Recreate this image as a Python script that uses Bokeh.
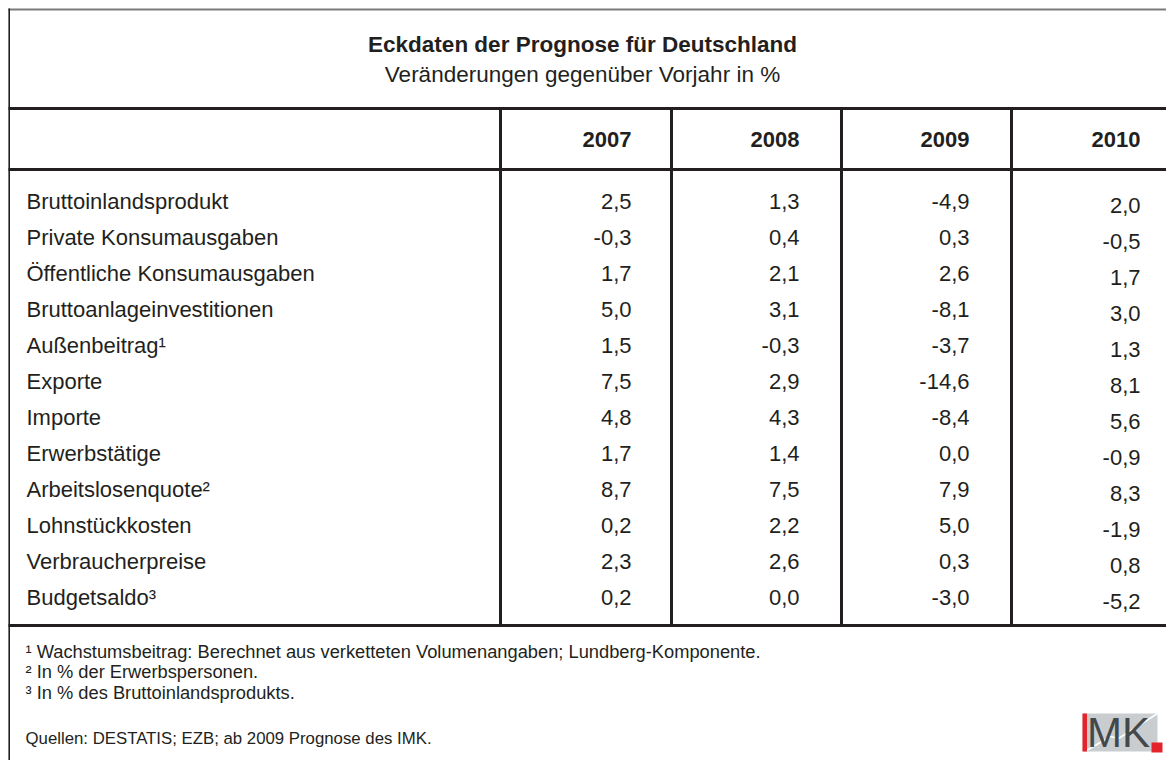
from bokeh.plotting import figure
from bokeh.models import Range1d, ColumnDataSource
from bokeh.core.properties import value
from bokeh.embed import file_html
from bokeh.resources import INLINE

# ---------------- data ----------------
title = "Eckdaten der Prognose für Deutschland"
subtitle = "Veränderungen gegenüber Vorjahr in %"
years = ["2007", "2008", "2009", "2010"]
labels = [
    "Bruttoinlandsprodukt",
    "Private Konsumausgaben",
    "Öffentliche Konsumausgaben",
    "Bruttoanlageinvestitionen",
    "Außenbeitrag¹",
    "Exporte",
    "Importe",
    "Erwerbstätige",
    "Arbeitslosenquote²",
    "Lohnstückkosten",
    "Verbraucherpreise",
    "Budgetsaldo³",
]
v2007 = [2.5, -0.3, 1.7, 5.0, 1.5, 7.5, 4.8, 1.7, 8.7, 0.2, 2.3, 0.2]
v2008 = [1.3, 0.4, 2.1, 3.1, -0.3, 2.9, 4.3, 1.4, 7.5, 2.2, 2.6, 0.0]
v2009 = [-4.9, 0.3, 2.6, -8.1, -3.7, -14.6, -8.4, 0.0, 7.9, 5.0, 0.3, -3.0]
v2010 = [2.0, -0.5, 1.7, 3.0, 1.3, 8.1, 5.6, -0.9, 8.3, -1.9, 0.8, -5.2]
footnotes = [
    "¹ Wachstumsbeitrag: Berechnet aus verketteten Volumenangaben; Lundberg-Komponente.",
    "² In % der Erwerbspersonen.",
    "³ In % des Bruttoinlandsprodukts.",
]
source_note = "Quellen: DESTATIS; EZB; ab 2009 Prognose des IMK."

# ---------------- layout ----------------
W, H = 1166, 760
FONT = value("Liberation Sans")
INK = "#231f20"


def fmt(v):
    return f"{v:.1f}".replace(".", ",")


p = figure(width=W, height=H, x_range=Range1d(0, W), y_range=Range1d(H, 0),
           output_backend="svg", toolbar_location=None, min_border=0,
           x_axis_type=None, y_axis_type=None)
p.grid.visible = False
p.outline_line_color = None
p.background_fill_color = "white"
p.border_fill_color = "white"

# frame lines
p.segment(x0=[8], y0=[9], x1=[1166], y1=[9], line_color="#7a7a7a", line_width=2)
p.segment(x0=[8.7], y0=[8], x1=[8.7], y1=[760], line_color=INK, line_width=1.6)
for yy in (108, 169, 625):
    p.segment(x0=[8], y0=[yy], x1=[1166], y1=[yy], line_color=INK, line_width=3)
col_lines = [500, 671, 841, 1011]
for xx in col_lines:
    p.segment(x0=[xx], y0=[108], x1=[xx], y1=[625], line_color=INK, line_width=3)

# title
p.text(x=[582], y=[44], text=[title], text_font=FONT, text_font_size="22.5px",
       text_font_style="bold", text_align="center", text_baseline="middle", text_color=INK)
p.text(x=[582], y=[74], text=[subtitle], text_font=FONT, text_font_size="22.5px",
       text_align="center", text_baseline="middle", text_color=INK)

# header years
col_right = [631, 799, 969, 1140]
p.text(x=col_right, y=[139] * 4, text=years, text_font=FONT,
       text_font_size="22px", text_font_style="bold", text_align="right",
       text_baseline="middle", text_color=INK)

# rows
row_y = [201 + 36 * i for i in range(len(labels))]
p.text(x=[26] * len(labels), y=row_y, text=labels, text_font=FONT, text_font_size="22px",
       text_align="left", text_baseline="middle", text_color=INK)

series = [v2007, v2008, v2009, v2010]
y_shift = [0, 0, 0, 4]
for vals, cx, dy in zip(series, col_right, y_shift):
    src = ColumnDataSource(dict(x=[cx] * len(vals), y=[y + dy for y in row_y],
                                t=[fmt(v) for v in vals]))
    p.text(x="x", y="y", text="t", source=src, text_font=FONT, text_font_size="22px",
           text_align="right", text_baseline="middle", text_color=INK)

# footnotes
fy = [651, 671, 692]
p.text(x=[25] * 3, y=fy, text=footnotes, text_font=FONT,
       text_font_size="18.3px", text_align="left", text_baseline="middle", text_color=INK)
p.text(x=[25], y=[738], text=[source_note], text_font=FONT, text_font_size="16.8px",
       text_align="left", text_baseline="middle", text_color=INK)

# IMK logo
p.quad(left=[1082], right=[1157], top=[713], bottom=[751],
       fill_color="#c9cdd0", line_color=None)
p.line(x=[1086, 1110, 1118, 1157], y=[750, 736, 738, 713],
       line_color="white", line_width=1.5)
p.quad(left=[1082], right=[1086.5], top=[713], bottom=[751],
       fill_color="#e3242b", line_color=None)
p.text(x=[1118], y=[732], text=["MK"], text_font=FONT,
       text_font_size="42px", text_align="center", text_baseline="middle", text_color="#45484a")
p.quad(left=[1151], right=[1162], top=[742], bottom=[752],
       fill_color="#e3242b", line_color=None)

open("out.html", "w").write(file_html(p, INLINE))
